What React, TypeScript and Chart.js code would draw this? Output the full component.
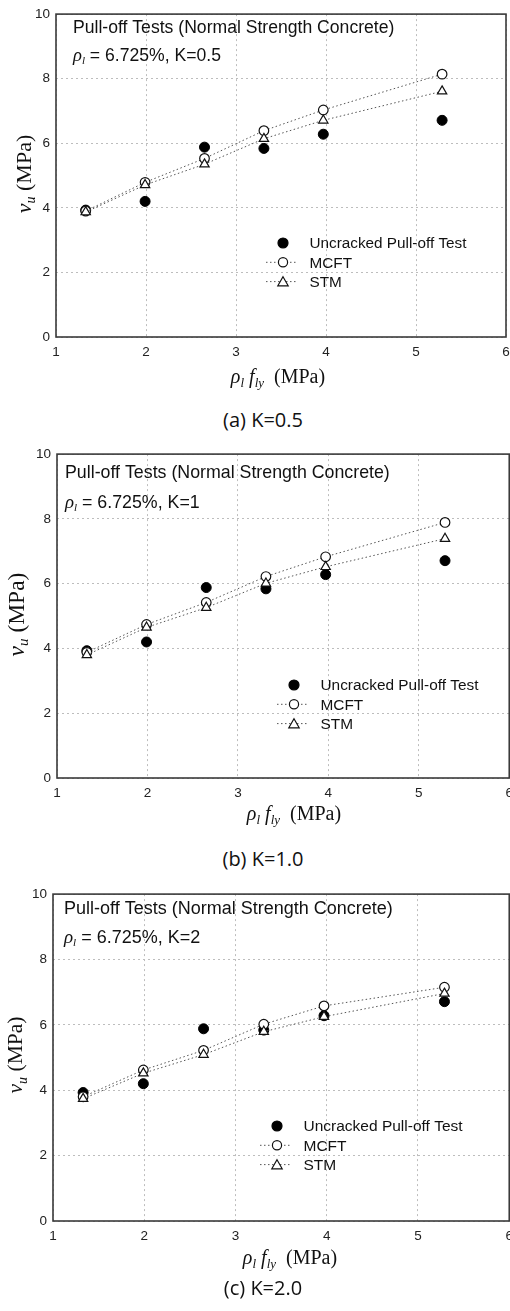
import React, { useEffect, useRef } from "react";
import { Chart, registerables } from "chart.js";

Chart.register(...registerables);

// ---------- data ----------
const xValues = [1.33, 1.99, 2.65, 3.31, 3.97, 5.29];
const testValues = [3.93, 4.2, 5.88, 5.84, 6.28, 6.71];

const mcftK05 = [3.9, 4.79, 5.53, 6.39, 7.03, 8.14];
const stmK05 = [3.87, 4.71, 5.35, 6.14, 6.71, 7.61];

const mcftK10 = [3.88, 4.74, 5.42, 6.22, 6.83, 7.89];
const stmK10 = [3.8, 4.65, 5.26, 6.01, 6.52, 7.39];

const mcftK20 = [3.8, 4.62, 5.22, 6.02, 6.58, 7.15];
const stmK20 = [3.74, 4.52, 5.09, 5.79, 6.25, 6.96];

const xTicks = [1, 2, 3, 4, 5, 6];
const yTicks = [0, 2, 4, 6, 8, 10];

const seriesLabels = ["Uncracked Pull-off Test", "MCFT", "STM"];
const titleLine = "Pull-off Tests (Normal Strength Concrete)";
const kLabels = ["K=0.5", "K=1", "K=2"];
const captions = ["(a) K=0.5", "(b) K=1.0", "(c) K=2.0"];

// ---------- layout ----------
const CW = 520;
const CH = 400;

type PanelDef = {
  caption: string;
  kLabel: string;
  mcft: number[];
  stm: number[];
  canvasTop: number;
  plotLeft: number;
  plotRight: number;
  plotTop: number;
  plotBottom: number;
  captionY: number;
  annoDx: number;
  annoDy1: number;
  annoDy2: number;
  annoSize: number;
  legendDx: number;
  legendDy: number;
  legendSize: number;
  xTitleX: number;
  xTitleY: number;
  yTitleX: number;
  yTitleY: number;
  yTitleSize: number;
};

const panels: PanelDef[] = [
  {
    caption: captions[0], kLabel: kLabels[0], mcft: mcftK05, stm: stmK05,
    canvasTop: 0, plotLeft: 56, plotRight: 506, plotTop: 13, plotBottom: 337,
    captionY: 420, annoDx: 17, annoDy1: 14, annoDy2: 40.5, annoSize: 17.6,
    legendDx: 227, legendDy: 94, legendSize: 15.3,
    xTitleX: 278, xTitleY: 377, yTitleX: 24, yTitleY: 174, yTitleSize: 22,
  },
  {
    caption: captions[1], kLabel: kLabels[1], mcft: mcftK10, stm: stmK10,
    canvasTop: 440, plotLeft: 57, plotRight: 510, plotTop: 453, plotBottom: 778,
    captionY: 859, annoDx: 8, annoDy1: 19.5, annoDy2: 47, annoSize: 17.8,
    legendDx: 237, legendDy: 93, legendSize: 15.4,
    xTitleX: 294, xTitleY: 814, yTitleX: 16.5, yTitleY: 614.5, yTitleSize: 23.5,
  },
  {
    caption: captions[2], kLabel: kLabels[2], mcft: mcftK20, stm: stmK20,
    canvasTop: 880, plotLeft: 53, plotRight: 511, plotTop: 893, plotBottom: 1221,
    captionY: 1288, annoDx: 11, annoDy1: 15, annoDy2: 42, annoSize: 18,
    legendDx: 224, legendDy: 95, legendSize: 15.5,
    xTitleX: 290, xTitleY: 1258, yTitleX: 16, yTitleY: 1055, yTitleSize: 21.5,
  },
];

const SANS = "'Liberation Sans', Arial, sans-serif";
const SERIF = "'Liberation Serif', 'Times New Roman', serif";

type Seg = { t: string; font: string; dy?: number };

function segWidth(ctx: CanvasRenderingContext2D, segs: Seg[]) {
  let w = 0;
  for (const s of segs) {
    ctx.font = s.font;
    w += ctx.measureText(s.t).width;
  }
  return w;
}

function drawSegs(ctx: CanvasRenderingContext2D, segs: Seg[], x: number, y: number) {
  let cx = x;
  ctx.textAlign = "left";
  ctx.textBaseline = "alphabetic";
  for (const s of segs) {
    ctx.font = s.font;
    ctx.fillText(s.t, cx, y + (s.dy || 0));
    cx += ctx.measureText(s.t).width;
  }
}

function drawMarker(
  ctx: CanvasRenderingContext2D,
  style: string,
  x: number,
  y: number,
  r: number,
  fill: string,
  stroke: string
) {
  ctx.beginPath();
  if (style === "triangle") {
    let rad = 0;
    ctx.moveTo(x + Math.sin(rad) * r, y - Math.cos(rad) * r);
    rad += (2 * Math.PI) / 3;
    ctx.lineTo(x + Math.sin(rad) * r, y - Math.cos(rad) * r);
    rad += (2 * Math.PI) / 3;
    ctx.lineTo(x + Math.sin(rad) * r, y - Math.cos(rad) * r);
    ctx.closePath();
  } else {
    ctx.arc(x, y, r, 0, Math.PI * 2);
  }
  ctx.fillStyle = fill;
  ctx.fill();
  ctx.lineWidth = 1.2;
  ctx.strokeStyle = stroke;
  ctx.stroke();
}

function makeDecor(p: PanelDef) {
  return {
    id: "decor",
    beforeDatasetsDraw(chart: any) {
      const { ctx, chartArea } = chart;
      ctx.save();
      ctx.strokeStyle = "#3a3a3a";
      ctx.lineWidth = 1.6;
      ctx.strokeRect(chartArea.left, chartArea.top, chartArea.right - chartArea.left, chartArea.bottom - chartArea.top);
      ctx.restore();
    },
    afterDraw(chart: any) {
      const { ctx, chartArea } = chart;
      const top0 = p.canvasTop;
      ctx.save();
      ctx.fillStyle = "#111";

      // annotation
      const ax = chartArea.left + p.annoDx;
      ctx.font = `${p.annoSize}px ${SANS}`;
      ctx.textAlign = "left";
      ctx.textBaseline = "middle";
      ctx.fillText(titleLine, ax, chartArea.top + p.annoDy1);
      drawSegs(
        ctx,
        [
          { t: "ρ", font: `italic ${p.annoSize + 1}px ${SERIF}` },
          { t: "l", font: `italic 11px ${SERIF}`, dy: 3 },
          { t: " = 6.725%, " + p.kLabel, font: `${p.annoSize}px ${SANS}` },
        ],
        ax,
        chartArea.top + p.annoDy2 + 6.5
      );

      // legend
      const mx = chartArea.left + p.legendDx;
      const styles = ["circle", "circle", "triangle"];
      const radii = [5, 4.6, 6];
      chart.data.datasets.forEach((ds: any, i: number) => {
        const ry = chartArea.bottom - p.legendDy + i * 19.3;
        if (i > 0) {
          ctx.save();
          ctx.strokeStyle = "#555";
          ctx.lineWidth = 1;
          ctx.setLineDash([1.5, 2.5]);
          ctx.beginPath();
          ctx.moveTo(mx - 17, ry);
          ctx.lineTo(mx + 15, ry);
          ctx.stroke();
          ctx.restore();
        }
        drawMarker(ctx, styles[i], mx, ry + (i === 2 ? 1.2 : 0), radii[i], ds.pointBackgroundColor, ds.pointBorderColor);
        ctx.fillStyle = "#111";
        ctx.font = `${p.legendSize}px ${SANS}`;
        ctx.textAlign = "left";
        ctx.textBaseline = "middle";
        ctx.fillText(ds.label, mx + 26.5, ry + 1);
      });

      // x title
      const xSegs: Seg[] = [
        { t: "ρ", font: `italic 20px ${SERIF}` },
        { t: "l", font: `italic 13px ${SERIF}`, dy: 4 },
        { t: " ", font: `20px ${SERIF}` },
        { t: "f", font: `italic 20px ${SERIF}` },
        { t: "ly", font: `italic 13px ${SERIF}`, dy: 4 },
        { t: "  (MPa)", font: `20px ${SERIF}` },
      ];
      const xw = segWidth(ctx, xSegs);
      ctx.fillStyle = "#111";
      drawSegs(ctx, xSegs, p.xTitleX - xw / 2, p.xTitleY - top0 + 6);

      // y title
      const ys = p.yTitleSize;
      const ySegs: Seg[] = [
        { t: "ν", font: `italic ${ys}px ${SERIF}` },
        { t: "u", font: `italic ${Math.round(ys * 0.65)}px ${SERIF}`, dy: ys * 0.2 },
        { t: " (MPa)", font: `${ys}px ${SERIF}` },
      ];
      const yw = segWidth(ctx, ySegs);
      ctx.save();
      ctx.translate(p.yTitleX, p.yTitleY - top0);
      ctx.rotate(-Math.PI / 2);
      drawSegs(ctx, ySegs, -yw / 2, ys * 0.3);
      ctx.restore();

      ctx.restore();
    },
  };
}

function PanelChart({ p }: { p: PanelDef }) {
  const ref = useRef<HTMLCanvasElement>(null);
  useEffect(() => {
    const canvas = ref.current;
    if (!canvas) return;
    const toPts = (ys: number[]) => xValues.map((x, i) => ({ x, y: ys[i] }));
    const xAxisHeight = CH - (p.plotBottom - p.canvasTop);
    const chart = new Chart(canvas, {
      type: "line",
      data: {
        datasets: [
          {
            label: seriesLabels[0],
            data: toPts(testValues),
            showLine: false,
            pointStyle: "circle",
            pointRadius: 5,
            pointBackgroundColor: "#000",
            pointBorderColor: "#000",
            pointBorderWidth: 1,
            order: 3,
          },
          {
            label: seriesLabels[1],
            data: toPts(p.mcft),
            showLine: true,
            borderColor: "#555",
            borderWidth: 1,
            borderDash: [1.5, 2.5],
            tension: 0,
            pointStyle: "circle",
            pointRadius: 4.8,
            pointBackgroundColor: "#fff",
            pointBorderColor: "#111",
            pointBorderWidth: 1.2,
            order: 2,
          },
          {
            label: seriesLabels[2],
            data: toPts(p.stm),
            showLine: true,
            borderColor: "#555",
            borderWidth: 1,
            borderDash: [1.5, 2.5],
            tension: 0,
            pointStyle: "triangle",
            pointRadius: 5.4,
            pointBackgroundColor: "#fff",
            pointBorderColor: "#111",
            pointBorderWidth: 1.2,
            order: 1,
          },
        ],
      } as any,
      options: {
        animation: false,
        responsive: false,
        maintainAspectRatio: false,
        events: [],
        layout: {
          padding: { left: 0, top: p.plotTop - p.canvasTop, right: CW - p.plotRight, bottom: 0 },
        },
        plugins: { legend: { display: false }, tooltip: { enabled: false } },
        scales: {
          x: {
            type: "linear",
            min: xTicks[0],
            max: xTicks[xTicks.length - 1],
            afterBuildTicks: (s: any) => {
              s.ticks = xTicks.map((v) => ({ value: v }));
            },
            ticks: { padding: 7, color: "#222", font: { family: SANS, size: 13.5 } },
            grid: { color: "#bdbdbd", lineWidth: 1, drawTicks: false },
            border: { display: false, dash: [2, 3] },
            afterFit: (s: any) => {
              s.height = xAxisHeight;
            },
          },
          y: {
            type: "linear",
            min: yTicks[0],
            max: yTicks[yTicks.length - 1],
            afterBuildTicks: (s: any) => {
              s.ticks = yTicks.map((v) => ({ value: v }));
            },
            ticks: { padding: 6, color: "#222", font: { family: SANS, size: 13.5 } },
            grid: { color: "#bdbdbd", lineWidth: 1, drawTicks: false },
            border: { display: false, dash: [2, 3] },
            afterFit: (s: any) => {
              s.width = p.plotLeft;
            },
          },
        },
      } as any,
      plugins: [makeDecor(p)],
    });
    return () => chart.destroy();
  }, [p]);
  return (
    <canvas
      ref={ref}
      width={CW}
      height={CH}
      style={{ position: "absolute", left: 0, top: p.canvasTop, width: CW, height: CH }}
    />
  );
}

export default function App() {
  return (
    <div
      style={{
        position: "absolute",
        left: 0,
        top: 0,
        width: 510,
        height: 1311,
        overflow: "hidden",
        background: "#fff",
      }}
    >
      {panels.map((p, i) => (
        <React.Fragment key={i}>
          <PanelChart p={p} />
          <div
            style={{
              position: "absolute",
              left: 263,
              top: p.captionY - 12,
              transform: "translateX(-50%)",
              whiteSpace: "nowrap",
              fontFamily: "'Open Sans', 'Noto Sans', sans-serif",
              fontSize: 20,
              lineHeight: "24px",
              color: "#111",
            }}
          >
            {p.caption}
          </div>
        </React.Fragment>
      ))}
    </div>
  );
}
